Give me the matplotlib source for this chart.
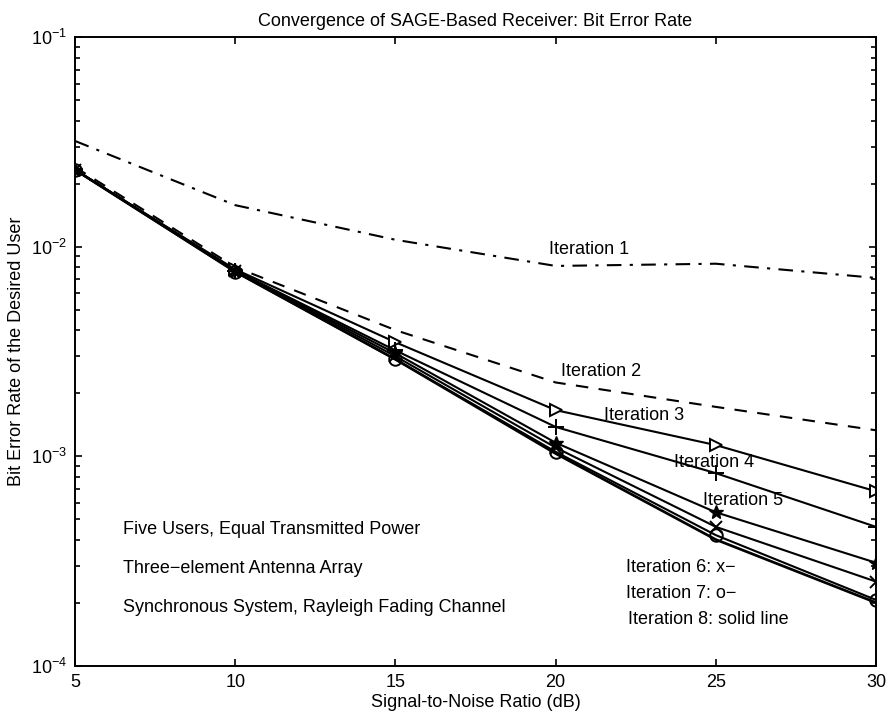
import matplotlib
matplotlib.use("Agg")
import matplotlib.pyplot as plt
from matplotlib.ticker import LogLocator, NullFormatter

plt.rcParams['font.family'] = ['Liberation Sans', 'DejaVu Sans']
plt.rcParams['mathtext.fontset'] = 'custom'
plt.rcParams['mathtext.rm'] = 'Liberation Sans'

snr = [5, 10, 15, 20, 25, 30]
it1 = [0.032, 0.0158, 0.0108, 0.0081, 0.0083, 0.0071]
it2 = [0.0240, 0.0080, 0.0040, 0.00225, 0.00172, 0.00133]
it3 = [0.0233, 0.0078, 0.0035, 0.00166, 0.00113, 0.00068]
it4 = [0.0233, 0.0077, 0.0032, 0.00138, 0.00083, 0.00046]
it5 = [0.0233, 0.0077, 0.0031, 0.00116, 0.00054, 0.00031]
it6 = [0.0233, 0.0077, 0.0030, 0.00110, 0.00046, 0.000252]
it7 = [0.0233, 0.0076, 0.0029, 0.00105, 0.00042, 0.000206]
it8 = [0.0233, 0.0076, 0.0029, 0.00103, 0.00040, 0.000200]

title = "Convergence of SAGE-Based Receiver: Bit Error Rate"
xlabel = "Signal-to-Noise Ratio (dB)"
ylabel = "Bit Error Rate of the Desired User"
xticks = [5, 10, 15, 20, 25, 30]

labels = [
    ("Iteration 1", 19.8, 0.0097),
    ("Iteration 2", 20.16, 0.00253),
    ("Iteration 3", 21.5, 0.00157),
    ("Iteration 4", 23.7, 0.00093),
    ("Iteration 5", 24.6, 0.000617),
    ("Iteration 6: x\u2212", 22.2, 0.000294),
    ("Iteration 7: o\u2212", 22.2, 0.000222),
    ("Iteration 8: solid line", 22.25, 0.000166),
]
notes = [
    ("Five Users, Equal Transmitted Power", 6.5, 0.000445),
    ("Three\u2212element Antenna Array", 6.5, 0.00029),
    ("Synchronous System, Rayleigh Fading Channel", 6.5, 0.000189),
]

fs = 13

fig = plt.figure(figsize=(8.87, 7.15), dpi=100)
ax = fig.add_axes([0.0846, 0.069, 0.903, 0.8788])

lw = 1.5
ax.plot(snr, it1, color='black', lw=lw, linestyle=(0, (7, 4, 1.5, 4)))
ax.plot(snr, it2, color='black', lw=lw, linestyle=(0, (6, 5)))
ax.plot(snr, it3, color='black', lw=lw, marker='>', ms=9, mfc='white', mec='black', mew=1.4)
ax.plot(snr, it4, color='black', lw=lw, marker='+', ms=11, mew=1.4)
ax.plot(snr, it5, color='black', lw=lw, marker='*', ms=10, mew=1.0)
ax.plot(snr, it6, color='black', lw=lw, marker='x', ms=8, mew=1.4)
ax.plot(snr, it7, color='black', lw=lw, marker='o', ms=9, mfc='none', mec='black', mew=1.4)
ax.plot(snr, it8, color='black', lw=lw * 1.3)

ax.set_yscale('log')
ax.set_xlim(5, 30)
ax.set_ylim(1e-4, 1e-1)
ax.set_xticks(xticks)
ax.set_xticklabels([str(t) for t in xticks])
ax.yaxis.set_major_locator(LogLocator(base=10, numticks=10))
ax.yaxis.set_minor_locator(LogLocator(base=10, subs=range(2, 10), numticks=10))
ax.yaxis.set_minor_formatter(NullFormatter())

ax.tick_params(which='both', direction='in', top=True, right=True, labelsize=fs, width=1.2)
ax.tick_params(which='major', length=5, pad=6)
ax.tick_params(which='minor', length=3.5)
for s in ax.spines.values():
    s.set_linewidth(1.4)

ax.set_title(title, fontsize=fs, pad=8)
ax.set_xlabel(xlabel, fontsize=fs, labelpad=2)
ax.set_ylabel(ylabel, fontsize=fs, labelpad=4)

for txt, x, y in labels:
    ax.text(x, y, txt, fontsize=fs, ha='left', va='center')
for txt, x, y in notes:
    ax.text(x, y, txt, fontsize=fs, ha='left', va='center')

fig.savefig("out.png", dpi=100)
